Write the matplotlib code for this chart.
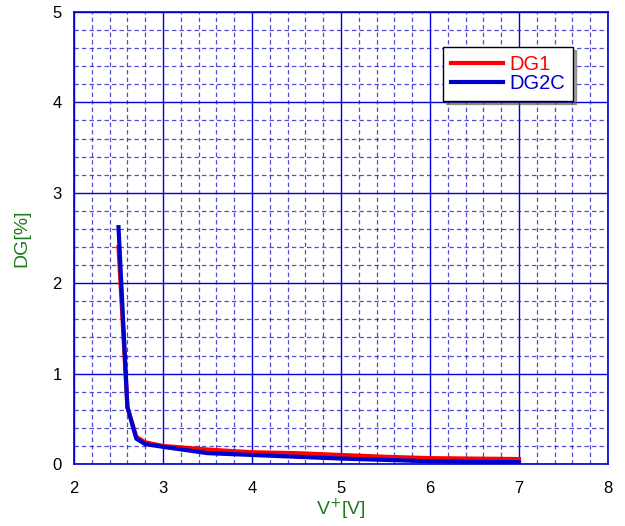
import matplotlib.pyplot as plt
import numpy as np

plt.rcParams['font.family'] = ['Liberation Sans', 'DejaVu Sans']

# data
v_dg1 = [2.5, 2.6, 2.7, 2.8, 3.0, 3.5, 4.0, 4.5, 5.0, 5.5, 6.0, 6.5, 7.0]
dg1 = [2.40, 0.63, 0.30, 0.24, 0.20, 0.16, 0.13, 0.12, 0.10, 0.08, 0.065, 0.06, 0.055]
v_dg2c = [2.5, 2.6, 2.7, 2.8, 3.0, 3.5, 4.0, 4.5, 5.0, 5.5, 6.0, 6.5, 7.0]
dg2c = [2.62, 0.63, 0.28, 0.22, 0.19, 0.12, 0.10, 0.08, 0.06, 0.045, 0.03, 0.025, 0.02]

fig = plt.figure(figsize=(6.25, 5.26), dpi=100)
ax = fig.add_axes([74 / 625, 1 - 464 / 526, 534 / 625, 452 / 526])

ax.plot(v_dg1, dg1, color='#ff0000', lw=3, label='DG1', zorder=3)
ax.plot(v_dg2c, dg2c, color='#0000cc', lw=3, label='DG2C', zorder=4)

ax.set_xlim(2, 8)
ax.set_ylim(0, 5)
ax.set_xticks(np.arange(2, 9, 1))
ax.set_yticks(np.arange(0, 6, 1))
ax.set_xticks(np.arange(2, 8.01, 0.2), minor=True)
ax.set_yticks(np.arange(0, 5.01, 0.2), minor=True)
ax.grid(which='major', color='#0000dd', lw=1, ls='-')
ax.grid(which='minor', color='#2222cc', lw=0.9, ls=(0, (3.5, 2.5)), alpha=0.8)
ax.tick_params(which='both', length=0, labelsize=12)
ax.tick_params(axis='x', pad=12)
ax.tick_params(axis='y', pad=9)
for s in ax.spines.values():
    s.set_color('#0000cc')
    s.set_linewidth(1.2)

ax.set_xlabel('V$^{+}$[V]', color='#1f7a1f', fontsize=14, labelpad=1)
ax.set_ylabel('DG[%]', color='#1f7a1f', fontsize=14, labelpad=16)

leg = ax.legend(loc='upper right', bbox_to_anchor=(0.935, 0.922), fontsize=14.5,
                frameon=True, fancybox=False, shadow=True, handlelength=2.6,
                handletextpad=0.3, borderpad=0.4, labelspacing=0.0,
                borderaxespad=0)
leg.get_frame().set_edgecolor('black')
leg.get_frame().set_linewidth(1)
leg.get_frame().set_alpha(1)
for t, c in zip(leg.get_texts(), ['#ff0000', '#0000cc']):
    t.set_color(c)

fig.savefig('out.png', dpi=100)
